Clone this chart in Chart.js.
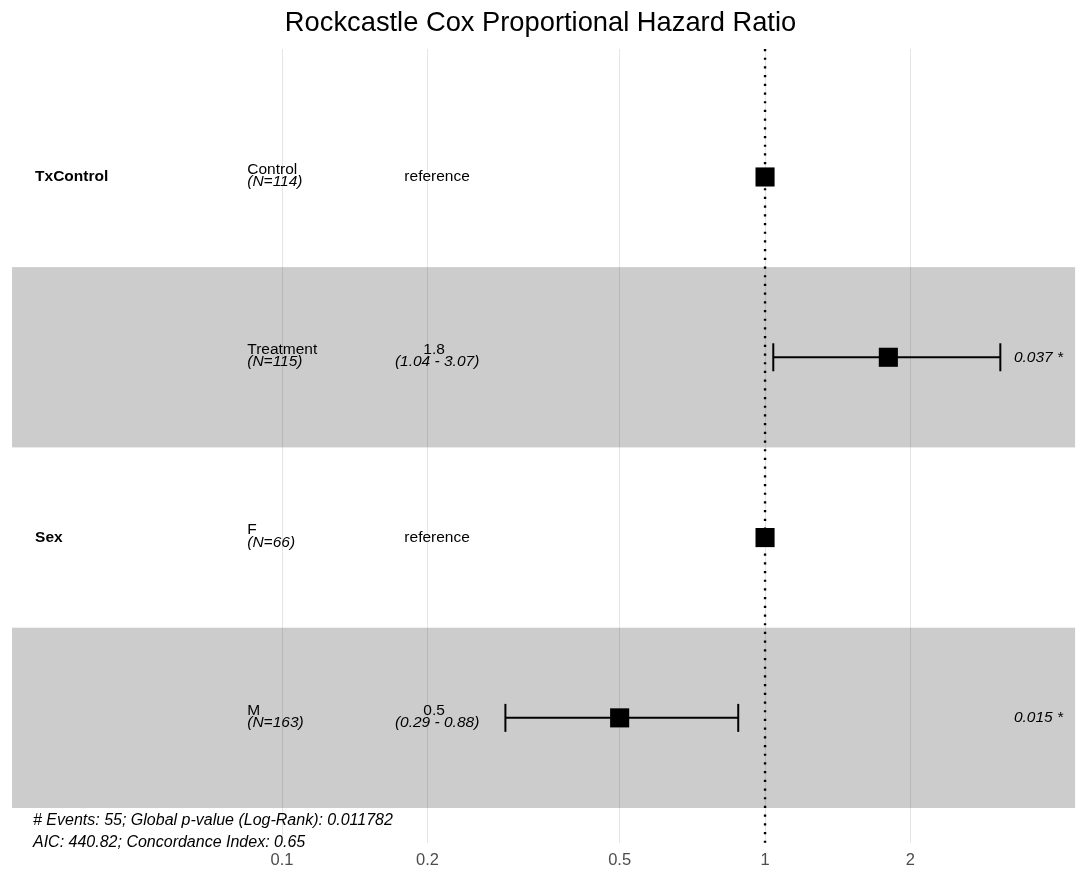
<!DOCTYPE html>
<html>
<head>
<meta charset="utf-8">
<title>Rockcastle Cox Proportional Hazard Ratio</title>
<script src="https://cdn.jsdelivr.net/npm/chart.js@4.4.1/dist/chart.umd.min.js"></script>
<style>
  html, body { margin: 0; padding: 0; background: #ffffff; }
  #wrap { width: 1081px; height: 869px; }
</style>
</head>
<body>
<div id="wrap"><canvas id="forest" width="1081" height="869"></canvas></div>
<script>
// ---- model rows (top to bottom) ----
const rowVariables = ['TxControl', '', 'Sex', ''];
const rowLevels = ['Control', 'Treatment', 'F', 'M'];
const rowCounts = [114, 115, 66, 163];
const hazardRatios = [1, 1.8, 1, 0.5];
const ciLower = [null, 1.04, null, 0.29];
const ciUpper = [null, 3.07, null, 0.88];
const pValues = [null, 0.037, null, 0.015];
const pStars = ['', '*', '', '*'];
const isReference = [true, false, true, false];

// ---- axis ----
const tickValues = [0.1, 0.2, 0.5, 1, 2];
const tickLabels = ['0.1', '0.2', '0.5', '1', '2'];

// ---- footnotes ----
const footnotes = [
  '# Events: 55; Global p-value (Log-Rank): 0.011782',
  'AIC: 440.82; Concordance Index: 0.65'
];

// ---- layout constants (data coordinates on the log axis / row axis) ----
const X_MIN = 0.02606, X_MAX = 4.51;
const Y_MIN = 0.29, Y_MAX = 4.694;
const BAND_X = [0.0276, 4.385];
const COL_VARIABLE = 0.0308;
const COL_LEVEL = 0.0847;
const COL_ESTIMATE = 0.2094;
const COL_PVALUE = 4.14;
const COL_FOOTNOTE = 0.0305;
const FOOTNOTE_ROWS = [4.569, 4.694];
const X_AXIS_HEIGHT = 26;

const FONT = '"Liberation Sans", Arial, Helvetica, sans-serif';

const rowIndex = rowLevels.map((_, i) => i + 1);

// squares at the hazard ratio of each level
const pointData = rowIndex.map((r, i) => ({ x: hazardRatios[i], y: r }));

// one line dataset per confidence interval, with vertical caps
const ciDatasets = rowIndex
  .filter((r, i) => ciLower[i] !== null)
  .map(r => ({
    type: 'scatter',
    data: [{ x: ciLower[r - 1], y: r }, { x: ciUpper[r - 1], y: r }],
    showLine: true,
    borderColor: '#000000',
    borderWidth: 2,
    pointStyle: 'line',
    pointRotation: 90,
    pointRadius: 14,
    pointBorderWidth: 2,
    pointBorderColor: '#000000',
    pointHoverRadius: 14,
    order: 2
  }));

// background bands for alternating rows and the text columns
const tablePlugin = {
  id: 'forestTable',
  beforeDatasetsDraw(chart) {
    const { ctx, scales: { x, y } } = chart;
    ctx.save();
    ctx.fillStyle = 'rgba(0,0,0,0.2)';
    rowIndex.forEach(r => {
      if (r % 2 === 0) {
        const x0 = x.getPixelForValue(BAND_X[0]);
        const x1 = x.getPixelForValue(BAND_X[1]);
        const y0 = y.getPixelForValue(r - 0.5);
        const y1 = y.getPixelForValue(r + 0.5);
        ctx.fillRect(x0, y0, x1 - x0, y1 - y0);
      }
    });
    ctx.restore();
  },
  afterDatasetsDraw(chart) {
    const { ctx, scales: { x, y } } = chart;
    ctx.save();
    ctx.fillStyle = '#000000';
    ctx.textBaseline = 'middle';
    const up = -7.6, down = 4.8;
    rowIndex.forEach((r, i) => {
      const yc = y.getPixelForValue(r);
      // variable name
      if (rowVariables[i]) {
        ctx.font = 'bold 15.5px ' + FONT;
        ctx.textAlign = 'left';
        ctx.fillText(rowVariables[i], x.getPixelForValue(COL_VARIABLE), yc);
      }
      // level and count
      ctx.textAlign = 'left';
      ctx.font = '15.5px ' + FONT;
      ctx.fillText(rowLevels[i], x.getPixelForValue(COL_LEVEL), yc + up);
      ctx.font = 'italic 15.5px ' + FONT;
      ctx.fillText('(N=' + rowCounts[i] + ')', x.getPixelForValue(COL_LEVEL), yc + down);
      // estimate
      ctx.textAlign = 'center';
      const xe = x.getPixelForValue(COL_ESTIMATE);
      if (isReference[i]) {
        ctx.font = '15.5px ' + FONT;
        ctx.fillText('reference', xe, yc);
      } else {
        ctx.font = '15.5px ' + FONT;
        ctx.fillText(String(hazardRatios[i]), xe - 3, yc + up);
        ctx.font = 'italic 15.5px ' + FONT;
        ctx.fillText('(' + ciLower[i].toFixed(2) + ' - ' + ciUpper[i].toFixed(2) + ')', xe, yc + down);
      }
      // p-value
      if (pValues[i] !== null) {
        ctx.textAlign = 'right';
        ctx.font = 'italic 15.5px ' + FONT;
        ctx.fillText(pValues[i].toFixed(3) + ' ' + pStars[i], x.getPixelForValue(COL_PVALUE), yc);
      }
    });
    // footnotes
    ctx.textAlign = 'left';
    ctx.font = 'italic 16px ' + FONT;
    footnotes.forEach((t, k) => {
      ctx.fillText(t, x.getPixelForValue(COL_FOOTNOTE), y.getPixelForValue(FOOTNOTE_ROWS[k]));
    });
    ctx.restore();
  }
};

new Chart(document.getElementById('forest'), {
  type: 'scatter',
  data: {
    datasets: [
      {
        data: pointData,
        pointStyle: 'rect',
        pointRadius: 13.5,
        pointHoverRadius: 13.5,
        backgroundColor: '#000000',
        borderColor: '#000000',
        borderWidth: 0,
        order: 1
      },
      ...ciDatasets,
      {
        // reference line at hazard ratio 1
        type: 'scatter',
        data: [{ x: 1, y: Y_MIN }, { x: 1, y: Y_MAX }],
        showLine: true,
        borderColor: '#000000',
        borderWidth: 2.4,
        borderDash: [2.2, 6.5],
        borderCapStyle: 'butt',
        pointRadius: 0,
        pointHoverRadius: 0,
        order: 3
      }
    ]
  },
  options: {
    responsive: false,
    animation: false,
    events: [],
    layout: { autoPadding: false, padding: { left: 0, right: 0, top: 0, bottom: 0 } },
    plugins: {
      legend: { display: false },
      tooltip: { enabled: false },
      title: {
        display: true,
        text: 'Rockcastle Cox Proportional Hazard Ratio',
        color: '#000000',
        font: { family: FONT, size: 27.3, weight: 'normal', lineHeight: 1.2 },
        padding: { top: 6.6, bottom: 9.6 }
      }
    },
    scales: {
      x: {
        type: 'logarithmic',
        min: X_MIN,
        max: X_MAX,
        bounds: 'data',
        afterBuildTicks(scale) {
          scale.ticks = tickValues.map(v => ({ value: v }));
        },
        afterFit(scale) {
          scale.height = X_AXIS_HEIGHT;
          scale.paddingTop = 0;
          scale.paddingBottom = 0;
        },
        ticks: {
          autoSkip: false,
          maxRotation: 0,
          color: '#4d4d4d',
          padding: 9.5,
          font: { family: FONT, size: 16.5, lineHeight: 1 },
          callback(value) {
            const k = tickValues.indexOf(value);
            return k >= 0 ? tickLabels[k] : '';
          }
        },
        grid: {
          color: 'rgba(0,0,0,0.1)',
          lineWidth: 1,
          drawTicks: false
        },
        border: { display: false }
      },
      y: {
        type: 'linear',
        display: false,
        reverse: true,
        min: Y_MIN,
        max: Y_MAX
      }
    }
  },
  plugins: [tablePlugin]
});
</script>
</body>
</html>
